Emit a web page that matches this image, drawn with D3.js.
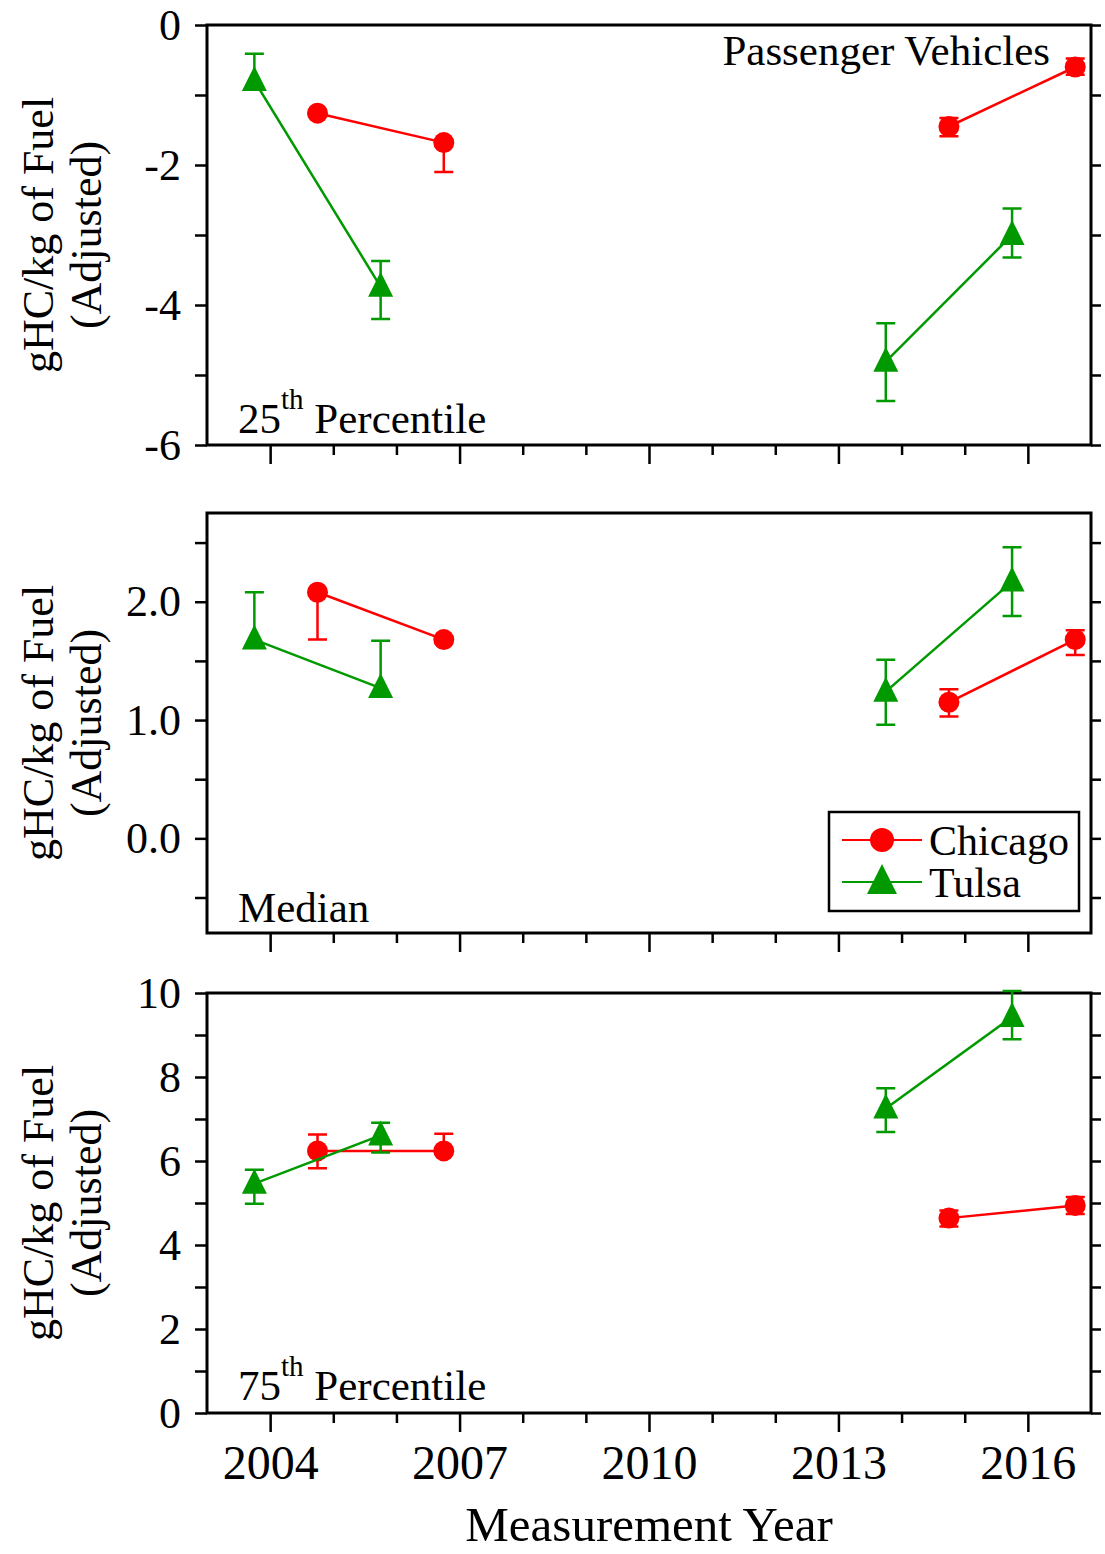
<!DOCTYPE html>
<html>
<head>
<meta charset="utf-8">
<script src="https://cdn.jsdelivr.net/npm/d3@7"></script>
<style>
  body { margin: 0; background: #fff; }
  svg { display: block; font-family: "Liberation Serif", "Times New Roman", serif; }
</style>
</head>
<body>
<svg width="1105" height="1554"></svg>
<script>
// measurement years (sites sampled in different years)
const chicagoYears = [2004.75, 2006.75, 2014.75, 2016.75]
const tulsaYears = [2003.75, 2005.75, 2013.75, 2015.75]
const segment = [0, 0, 1, 1]   // which points are joined by a line

// 25th percentile
const chicago25 = [-1.26, -1.68, -1.45, -0.60]
const chicago25Up = [0, 0, 0.12, 0.12]
const chicago25Dn = [0, 0.42, 0.14, 0.11]
const tulsa25 = [-0.80, -3.74, -4.81, -3.00]
const tulsa25Up = [0.39, 0.37, 0.55, 0.38]
const tulsa25Dn = [0, 0.46, 0.56, 0.32]

// median
const chicagoMed = [2.08, 1.68, 1.15, 1.68]
const chicagoMedUp = [0, 0, 0.11, 0.08]
const chicagoMedDn = [0.40, 0, 0.12, 0.13]
const tulsaMed = [1.68, 1.27, 1.24, 2.17]
const tulsaMedUp = [0.40, 0.40, 0.27, 0.29]
const tulsaMedDn = [0, 0, 0.28, 0.29]

// 75th percentile
const chicago75 = [6.24, 6.24, 4.64, 4.94]
const chicago75Up = [0.39, 0.41, 0.18, 0.20]
const chicago75Dn = [0.41, 0, 0.20, 0.20]
const tulsa75 = [5.46, 6.61, 7.25, 9.43]
const tulsa75Up = [0.33, 0.30, 0.48, 0.62]
const tulsa75Dn = [0.48, 0.41, 0.56, 0.53]

const xMajor = [2004, 2007, 2010, 2013, 2016]
const xMinor = d3.range(2004, 2017)

const red = '#ff0000'
const green = '#009900'

const svg = d3.select('svg')
const left = 207, right = 1091

const x = d3.scaleLinear().domain([2003, 2017]).range([left, right])

const toPoints = (years, vals, up, dn) =>
    years.map((yr, i) => ({ yr, v: vals[i], up: up[i], dn: dn[i], seg: segment[i] }))

// plain hyphen for negatives, like the original
const fmtInt = d => String(d)
const fmtOne = d => d.toFixed(1)

const panels = [
    { top: 25, bottom: 445, domain: [-6, 0], major: [-6, -4, -2, 0], minor: [-5, -3, -1], fmt: fmtInt,
      chicago: toPoints(chicagoYears, chicago25, chicago25Up, chicago25Dn),
      tulsa: toPoints(tulsaYears, tulsa25, tulsa25Up, tulsa25Dn) },
    { top: 513, bottom: 933, domain: [-0.8, 2.75], major: [0, 1, 2], minor: [-0.5, 0.5, 1.5, 2.5], fmt: fmtOne,
      chicago: toPoints(chicagoYears, chicagoMed, chicagoMedUp, chicagoMedDn),
      tulsa: toPoints(tulsaYears, tulsaMed, tulsaMedUp, tulsaMedDn) },
    { top: 993, bottom: 1413, domain: [0, 10], major: [0, 2, 4, 6, 8, 10], minor: [1, 3, 5, 7, 9], fmt: fmtInt,
      chicago: toPoints(chicagoYears, chicago75, chicago75Up, chicago75Dn),
      tulsa: toPoints(tulsaYears, tulsa75, tulsa75Up, tulsa75Dn) }
]

const triangle = s => `M0,${-s * 0.6}L${s * 0.5},${s * 0.4}L${-s * 0.5},${s * 0.4}Z`

function drawSeries(g, y, pts, color, shape) {
    const line = d3.line().x(d => x(d.yr)).y(d => y(d.v))
    d3.groups(pts, d => d.seg).forEach(([, p]) => {
        g.append('path').attr('d', line(p))
            .attr('fill', 'none').attr('stroke', color).attr('stroke-width', 2.5)
    })
    const eb = g.selectAll(null).data(pts).enter().append('g').attr('stroke', color).attr('stroke-width', 2.5)
    eb.filter(d => d.up > 0).append('path')
        .attr('d', d => `M${x(d.yr)},${y(d.v)}V${y(d.v + d.up)}M${x(d.yr) - 9.5},${y(d.v + d.up)}H${x(d.yr) + 9.5}`)
    eb.filter(d => d.dn > 0).append('path')
        .attr('d', d => `M${x(d.yr)},${y(d.v)}V${y(d.v - d.dn)}M${x(d.yr) - 9.5},${y(d.v - d.dn)}H${x(d.yr) + 9.5}`)
    if (shape === 'circle') {
        g.selectAll(null).data(pts).enter().append('circle')
            .attr('cx', d => x(d.yr)).attr('cy', d => y(d.v)).attr('r', 10.5).attr('fill', color)
    } else {
        g.selectAll(null).data(pts).enter().append('path')
            .attr('transform', d => `translate(${x(d.yr)},${y(d.v)})`)
            .attr('d', triangle(25)).attr('fill', color)
    }
}

const styleAxis = a => {
    a.attr('font-family', null).attr('font-size', null)
    a.select('.domain').remove()
    a.selectAll('line').attr('stroke', '#000').attr('stroke-width', 2.5)
    a.selectAll('text').attr('fill', '#000')
}

panels.forEach((p, i) => {
    const y = d3.scaleLinear().domain(p.domain).range([p.bottom, p.top])
    const g = svg.append('g')

    // left axis
    g.append('g').attr('transform', `translate(${left},0)`)
        .call(d3.axisLeft(y).tickValues(p.major).tickSize(12).tickPadding(14).tickFormat(p.fmt))
        .call(styleAxis)
        .call(a => a.selectAll('text').attr('font-size', 44))
    g.append('g').attr('transform', `translate(${left},0)`)
        .call(d3.axisLeft(y).tickValues(p.minor).tickSize(12).tickFormat(''))
        .call(styleAxis)
    // right axis
    g.append('g').attr('transform', `translate(${right},0)`)
        .call(d3.axisRight(y).tickValues(p.major.concat(p.minor)).tickSize(10).tickFormat(''))
        .call(styleAxis)
    // bottom axis
    g.append('g').attr('transform', `translate(0,${p.bottom})`)
        .call(d3.axisBottom(x).tickValues(xMajor).tickSize(19).tickPadding(13)
            .tickFormat(i === 2 ? d3.format('d') : ''))
        .call(styleAxis)
        .call(a => a.selectAll('text').attr('font-size', 48))
    g.append('g').attr('transform', `translate(0,${p.bottom})`)
        .call(d3.axisBottom(x).tickValues(xMinor.filter(v => !xMajor.includes(v))).tickSize(10).tickFormat(''))
        .call(styleAxis)

    // frame
    g.append('rect').attr('x', left).attr('y', p.top)
        .attr('width', right - left).attr('height', p.bottom - p.top)
        .attr('fill', 'none').attr('stroke', '#000').attr('stroke-width', 3)

    // y title
    const cy = (p.top + p.bottom) / 2
    const t = g.append('text').attr('transform', `translate(0,${cy}) rotate(-90)`)
        .attr('text-anchor', 'middle').attr('font-size', 44)
    t.append('tspan').attr('x', 0).attr('y', 53).text('gHC/kg of Fuel')
    t.append('tspan').attr('x', 0).attr('y', 101).text('(Adjusted)')

    const plot = g.append('g')
    drawSeries(plot, y, p.chicago, red, 'circle')
    drawSeries(plot, y, p.tulsa, green, 'triangle')
})

// annotations
svg.append('text').attr('x', 1050).attr('y', 65).attr('text-anchor', 'end')
    .attr('font-size', 43).text('Passenger Vehicles')

function pctLabel(yBase, num) {
    const t = svg.append('text').attr('x', 238).attr('y', yBase).attr('font-size', 43)
    t.append('tspan').text(num)
    t.append('tspan').attr('font-size', 29).attr('dy', -24).text('th')
    t.append('tspan').attr('dy', 24).text(' Percentile')
}
pctLabel(433, '25')
pctLabel(1400, '75')
svg.append('text').attr('x', 238).attr('y', 922).attr('font-size', 43).text('Median')

// legend
const legend = svg.append('g')
legend.append('rect').attr('x', 829).attr('y', 812).attr('width', 250).attr('height', 99)
    .attr('fill', '#fff').attr('stroke', '#000').attr('stroke-width', 2.5)
const legendItems = [
    { name: 'Chicago', color: red, shape: 'circle', y: 840 },
    { name: 'Tulsa', color: green, shape: 'triangle', y: 882 }
]
legendItems.forEach(d => {
    legend.append('line').attr('x1', 842).attr('x2', 922).attr('y1', d.y).attr('y2', d.y)
        .attr('stroke', d.color).attr('stroke-width', 2)
    if (d.shape === 'circle') {
        legend.append('circle').attr('cx', 882).attr('cy', d.y).attr('r', 12).attr('fill', d.color)
    } else {
        legend.append('path').attr('transform', `translate(882,${d.y})`).attr('d', triangle(30)).attr('fill', d.color)
    }
    legend.append('text').attr('x', 929).attr('y', d.y + 15).attr('font-size', 42).text(d.name)
})

// x title
svg.append('text').attr('x', (left + right) / 2).attr('y', 1541).attr('text-anchor', 'middle')
    .attr('font-size', 49).text('Measurement Year')
</script>
</body>
</html>
